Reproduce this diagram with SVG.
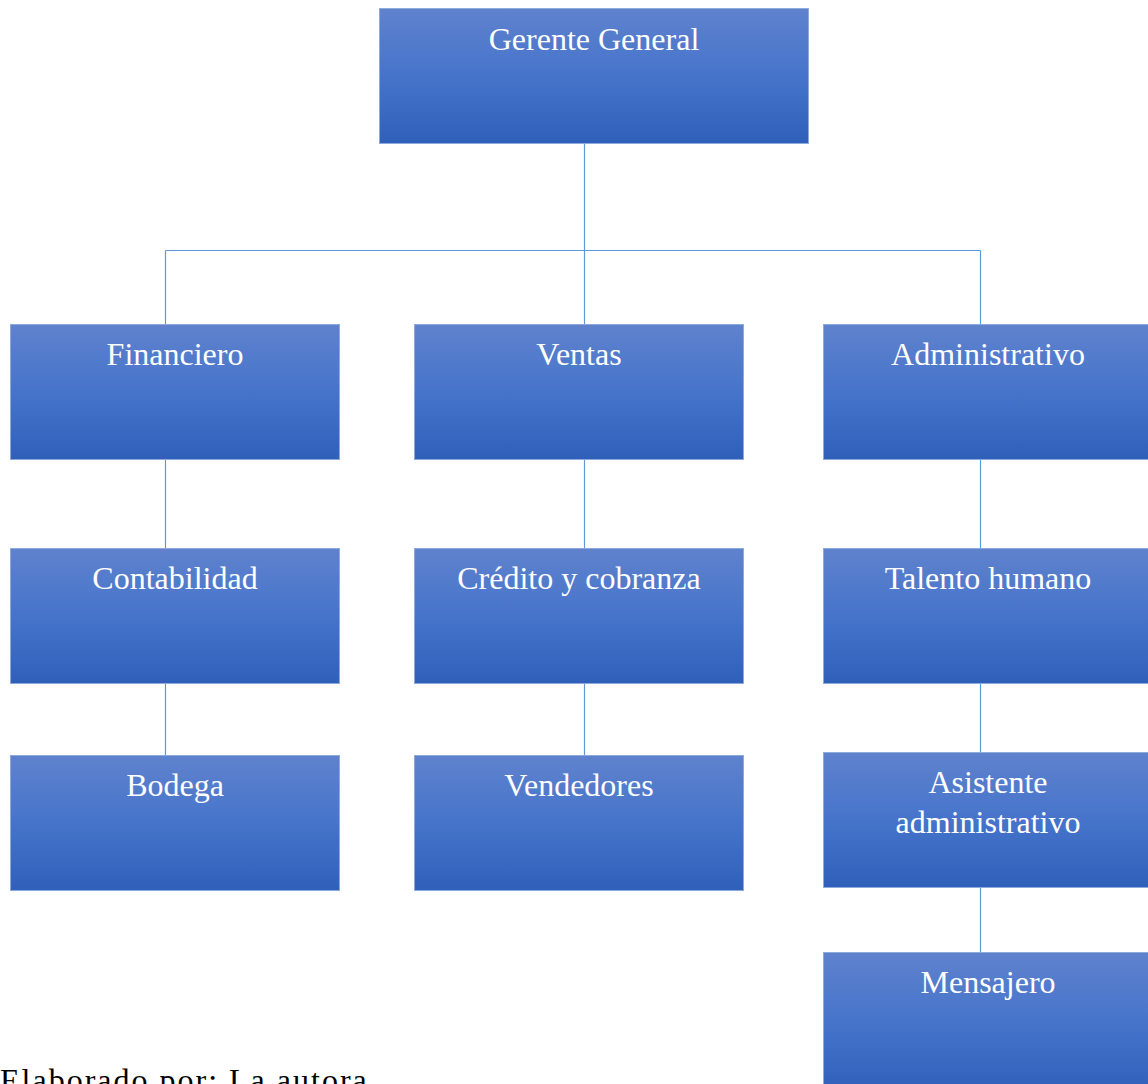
<svg xmlns="http://www.w3.org/2000/svg" width="1148" height="1084" viewBox="0 0 1148 1084">
<defs>
<linearGradient id="g" x1="0" y1="0" x2="0" y2="1">
<stop offset="0" stop-color="#5f82cd"/>
<stop offset="0.5" stop-color="#4674cb"/>
<stop offset="1" stop-color="#2f60b9"/>
</linearGradient>
<style>
.box{fill:url(#g);stroke:#8eaadc;stroke-width:1}
.t{font-family:"Liberation Serif","Times New Roman",serif;font-size:32px;fill:#ffffff;text-anchor:middle}
.c{stroke:#5b9bd5;stroke-width:1.2;fill:none}
.foot{font-family:"Liberation Serif","Times New Roman",serif;font-size:32px;fill:#000000;letter-spacing:2px}
</style>
</defs>
<rect width="1148" height="1084" fill="#ffffff"/>
<g id="connectors">
<path class="c" d="M584.5 144V250.5M165.5 250.5H980.5M165.5 250.5V324M584.5 250.5V324M980.5 250.5V324"/>
<path class="c" d="M165.5 460V548M165.5 684V755"/>
<path class="c" d="M584.5 460V548M584.5 684V755"/>
<path class="c" d="M980.5 460V548M980.5 684V752M980.5 888V952"/>
</g>
<g id="gerente"><rect class="box" x="379.5" y="8.5" width="429" height="135"/><text class="t" x="594" y="50">Gerente General</text></g>
<g id="financiero"><rect class="box" x="10.5" y="324.5" width="329" height="135"/><text class="t" x="175" y="365">Financiero</text></g>
<g id="ventas"><rect class="box" x="414.5" y="324.5" width="329" height="135"/><text class="t" x="579" y="365">Ventas</text></g>
<g id="administrativo"><rect class="box" x="823.5" y="324.5" width="330" height="135"/><text class="t" x="988" y="365">Administrativo</text></g>
<g id="contabilidad"><rect class="box" x="10.5" y="548.5" width="329" height="135"/><text class="t" x="175" y="589">Contabilidad</text></g>
<g id="credito"><rect class="box" x="414.5" y="548.5" width="329" height="135"/><text class="t" x="579" y="589">Crédito y cobranza</text></g>
<g id="talento"><rect class="box" x="823.5" y="548.5" width="330" height="135"/><text class="t" x="988" y="589">Talento humano</text></g>
<g id="bodega"><rect class="box" x="10.5" y="755.5" width="329" height="135"/><text class="t" x="175" y="796">Bodega</text></g>
<g id="vendedores"><rect class="box" x="414.5" y="755.5" width="329" height="135"/><text class="t" x="579" y="796">Vendedores</text></g>
<g id="asistente"><rect class="box" x="823.5" y="752.5" width="330" height="135"/><text class="t" x="988" y="793">Asistente</text><text class="t" x="988" y="833">administrativo</text></g>
<g id="mensajero"><rect class="box" x="823.5" y="952.5" width="330" height="140"/><text class="t" x="988" y="993">Mensajero</text></g>
<text class="foot" x="0" y="1091">Elaborado por: La autora</text>
</svg>
